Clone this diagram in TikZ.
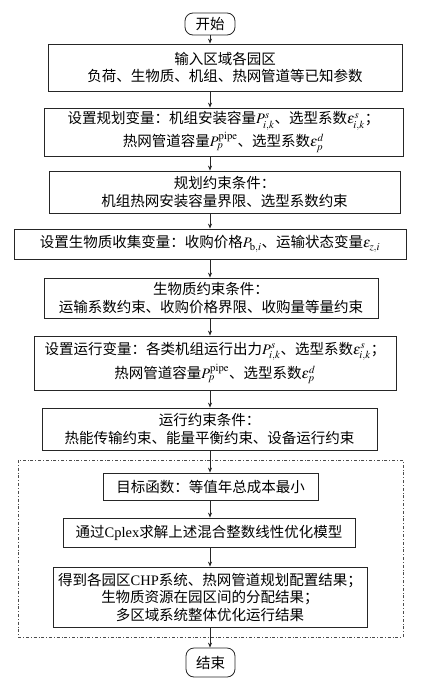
\documentclass[tikz,border=0pt]{standalone}
\usepackage{amsmath, amssymb}
\usepackage{mathptmx}
\usepackage{fontspec}
\setmainfont{Liberation Serif}
\newfontfamily\cjk{Noto Sans CJK SC}
\usepackage{xcolor}
\usepackage{tikz}
\usetikzlibrary{arrows.meta}

\begin{document}
\begin{tikzpicture}[x=1pt, y=-1pt,
    box/.style={draw=black!85, line width=0.8pt, align=center, inner sep=0pt,
      font=\cjk\fontsize{14.5}{17.5}\selectfont},
    term/.style={box, rounded corners=8pt},
    arr/.style={-{Stealth[length=5pt, width=4pt]}, black!85, line width=0.8pt},
    frame/.style={draw=black!70, line width=0.7pt, dash dot}]
  \useasboundingbox (0,0) rectangle (421,683);

  % start / end
  \node[term, minimum width=50pt, minimum height=22pt] (start) at (210,24) {开始};
  \node[term, minimum width=49pt, minimum height=29pt] (stop) at (210.5,662.5) {结束};

  % planning part
  \node[box, minimum width=354pt, minimum height=47pt] (input) at (225,67.5)
    {输入区域各园区\\负荷、生物质、机组、热网管道等已知参数};
  \node[box, minimum width=359pt, minimum height=48pt] (planvar) at (223.5,132)
    {设置规划变量：机组安装容量$P^{s}_{i,k}$、选型系数$\varepsilon^{s}_{i,k}$；\\[1pt]
     热网管道容量$P^{\mathrm{pipe}}_{p}$、选型系数$\varepsilon^{d}_{p}$};
  \node[box, minimum width=351pt, minimum height=42pt] (plancon) at (224.5,192)
    {规划约束条件：\\机组热网安装容量界限、选型系数约束};

  % biomass part
  \node[box, minimum width=392pt, minimum height=30pt] (biovar) at (210,244)
    {设置生物质收集变量：收购价格$P_{\mathrm{b},i}$、运输状态变量$\varepsilon_{z,i}$};
  \node[box, minimum width=334pt, minimum height=40pt] (biocon) at (211,298)
    {生物质约束条件：\\运输系数约束、收购价格界限、收购量等量约束};

  % operation part
  \node[box, minimum width=362pt, minimum height=54pt] (opvar) at (215,363)
    {设置运行变量：各类机组运行出力$P^{s}_{i,k}$、选型系数$\varepsilon^{s}_{i,k}$；\\[2pt]
     热网管道容量$P^{\mathrm{pipe}}_{p}$、选型系数$\varepsilon^{d}_{p}$};
  \node[box, minimum width=335pt, minimum height=42pt] (opcon) at (209.5,429)
    {运行约束条件：\\热能传输约束、能量平衡约束、设备运行约束};

  % solving part (inside the dash-dot frame)
  \node[box, minimum width=215pt, minimum height=27pt] (obj) at (210.5,486.5)
    {目标函数：等值年总成本最小};
  \node[box, minimum width=292pt, minimum height=29pt] (solve) at (209,532.5)
    {通过\textrm{Cplex}求解上述混合整数线性优化模型};
  \node[box, minimum width=314pt, minimum height=60pt] (result) at (210,597)
    {得到各园区\textrm{CHP}系统、热网管道规划配置结果；\\
     生物质资源在园区间的分配结果；\\多区域系统整体优化运行结果};
  \draw[frame] (18,460) rectangle (403,637);

  % connectors
  \draw[arr] (start.south) -- (start.south |- input.north);
  \draw[arr] (start.south |- input.south) -- (start.south |- planvar.north);
  \draw[arr] (start.south |- planvar.south) -- (start.south |- plancon.north);
  \draw[arr] (start.south |- plancon.south) -- (biovar.north -| start.south);
  \draw[arr] (start.south |- biovar.south) -- (start.south |- biocon.north);
  \draw[arr] (start.south |- biocon.south) -- (start.south |- opvar.north);
  \draw[arr] (start.south |- opvar.south) -- (start.south |- opcon.north);
  \draw[arr] (start.south |- opcon.south) -- (start.south |- obj.north);
  \draw[arr] (start.south |- obj.south) -- (start.south |- solve.north);
  \draw[arr] (start.south |- solve.south) -- (start.south |- result.north);
  \draw[arr] (start.south |- result.south) -- (stop.north -| start.south);
\end{tikzpicture}
\end{document}
